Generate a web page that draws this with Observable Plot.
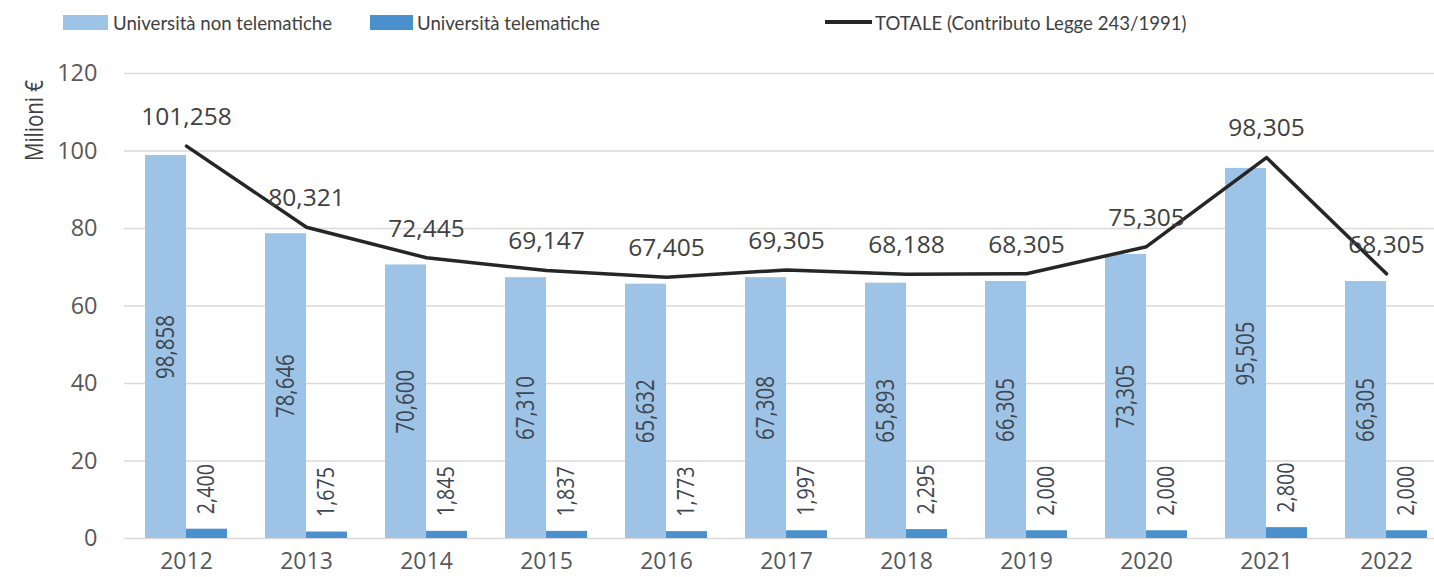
<!DOCTYPE html>
<html>
<head>
<meta charset="utf-8">
<script src="https://cdn.jsdelivr.net/npm/d3@7"></script>
<script src="https://cdn.jsdelivr.net/npm/@observablehq/plot@0.6"></script>
<style>
  html, body { margin: 0; padding: 0; background: #fff; }
  #wrap { width: 1434px; height: 577px; position: relative; overflow: hidden; }
  #legend { position: relative; height: 46px; font-family: Lato, "Open Sans", sans-serif; font-size: 20px; color: #404040; }
  #legend .sw { position: absolute; }
  #legend .tx { position: absolute; top: 8px; line-height: 28px; white-space: nowrap; transform: scaleX(0.93); transform-origin: left center; }
  svg { display: block; }
</style>
</head>
<body>
<div id="wrap">
  <div id="legend">
    <div class="sw" style="left:63px;top:15px;width:45px;height:15px;background:#9dc3e6"></div>
    <div class="tx" style="left:113px">Università non telematiche</div>
    <div class="sw" style="left:370px;top:15px;width:43px;height:15px;background:#4a90cc"></div>
    <div class="tx" style="left:417px">Università telematiche</div>
    <div class="sw" style="left:825px;top:20px;width:47px;height:4px;background:#262626"></div>
    <div class="tx" style="left:875px">TOTALE (Contributo Legge 243/1991)</div>
  </div>
  <div id="chart"></div>
</div>
<script>
const years = [2012, 2013, 2014, 2015, 2016, 2017, 2018, 2019, 2020, 2021, 2022];
const nonTelematiche = [98.858, 78.646, 70.600, 67.310, 65.632, 67.308, 65.893, 66.305, 73.305, 95.505, 66.305];
const telematiche = [2.400, 1.675, 1.845, 1.837, 1.773, 1.997, 2.295, 2.000, 2.000, 2.800, 2.000];
const totale = [101.258, 80.321, 72.445, 69.147, 67.405, 69.305, 68.188, 68.305, 75.305, 98.305, 68.305];
const yTicks = [0, 20, 40, 60, 80, 100, 120];
const yLabel = "Milioni €";

const data = years.map((y, i) => ({year: y, non: nonTelematiche[i], tel: telematiche[i], tot: totale[i]}));
const fmt = v => d3.format(".3f")(v).replace(".", ",");

const horiz = "'Open Sans', sans-serif";
const narrow = "'Open Sans', sans-serif";

const chart = Plot.plot({
  width: 1434,
  height: 531,
  marginTop: 27,
  marginBottom: 39,
  marginLeft: 124,
  marginRight: 0,
  style: {fontFamily: horiz, fontSize: "23px", color: "#595959", background: "#fff"},
  x: {type: "band", domain: years, range: [124, 1447], paddingInner: 0.318, paddingOuter: 0.159, axis: null},
  y: {domain: [0, 120], axis: null},
  marks: [
    Plot.gridY(yTicks, {stroke: "#d9d9d9", strokeOpacity: 1, strokeWidth: 1.6}),
    Plot.axisY(yTicks, {tickSize: 0, tickPadding: 27, fontSize: 23.5, fill: "#595959", label: null}),
    Plot.axisX(years, {tickSize: 0, tickPadding: 14, fontSize: 23, fill: "#595959", tickFormat: d => String(d), label: null}),
    Plot.barY(data, {x: "year", y: "non", fill: "#9dc3e6", insetRight: 41}),
    Plot.barY(data, {x: "year", y: "tel", fill: "#4a90cc", insetLeft: 41}),
    Plot.line(data, {x: "year", y: "tot", stroke: "#262626", strokeWidth: 3.5}),
    Plot.text(data, {x: "year", y: d => d.non / 2, text: d => fmt(d.non), rotate: -90, dx: -21,
      fontFamily: narrow, fontSize: 25, fill: "#3f4650"}),
    Plot.text(data, {x: "year", y: "tel", text: d => fmt(d.tel), rotate: -90, dx: 20, dy: -15, textAnchor: "start",
      fontFamily: narrow, fontSize: 24, fill: "#3f4650"}),
    Plot.text(data, {x: "year", y: "tot", text: d => fmt(d.tot), dy: -29,
      fontFamily: horiz, fontSize: 24.5, fill: "#404040"}),
    Plot.text([yLabel], {frameAnchor: "top-left", dx: -99, dy: 47, rotate: -90, textAnchor: "middle",
      fontFamily: narrow, fontSize: 25, fill: "#404040"})
  ]
});
document.getElementById("chart").appendChild(chart);

// condense the rotated labels (narrow type, as in the reference)
d3.select(chart).selectAll("text")
  .filter(function() { return /rotate\(-90\)/.test(this.getAttribute("transform") || ""); })
  .each(function() {
    const len = this.getComputedTextLength();
    if (len > 0) {
      this.setAttribute("textLength", (len * 0.82).toFixed(1));
      this.setAttribute("lengthAdjust", "spacingAndGlyphs");
    }
  });
</script>
</body>
</html>
